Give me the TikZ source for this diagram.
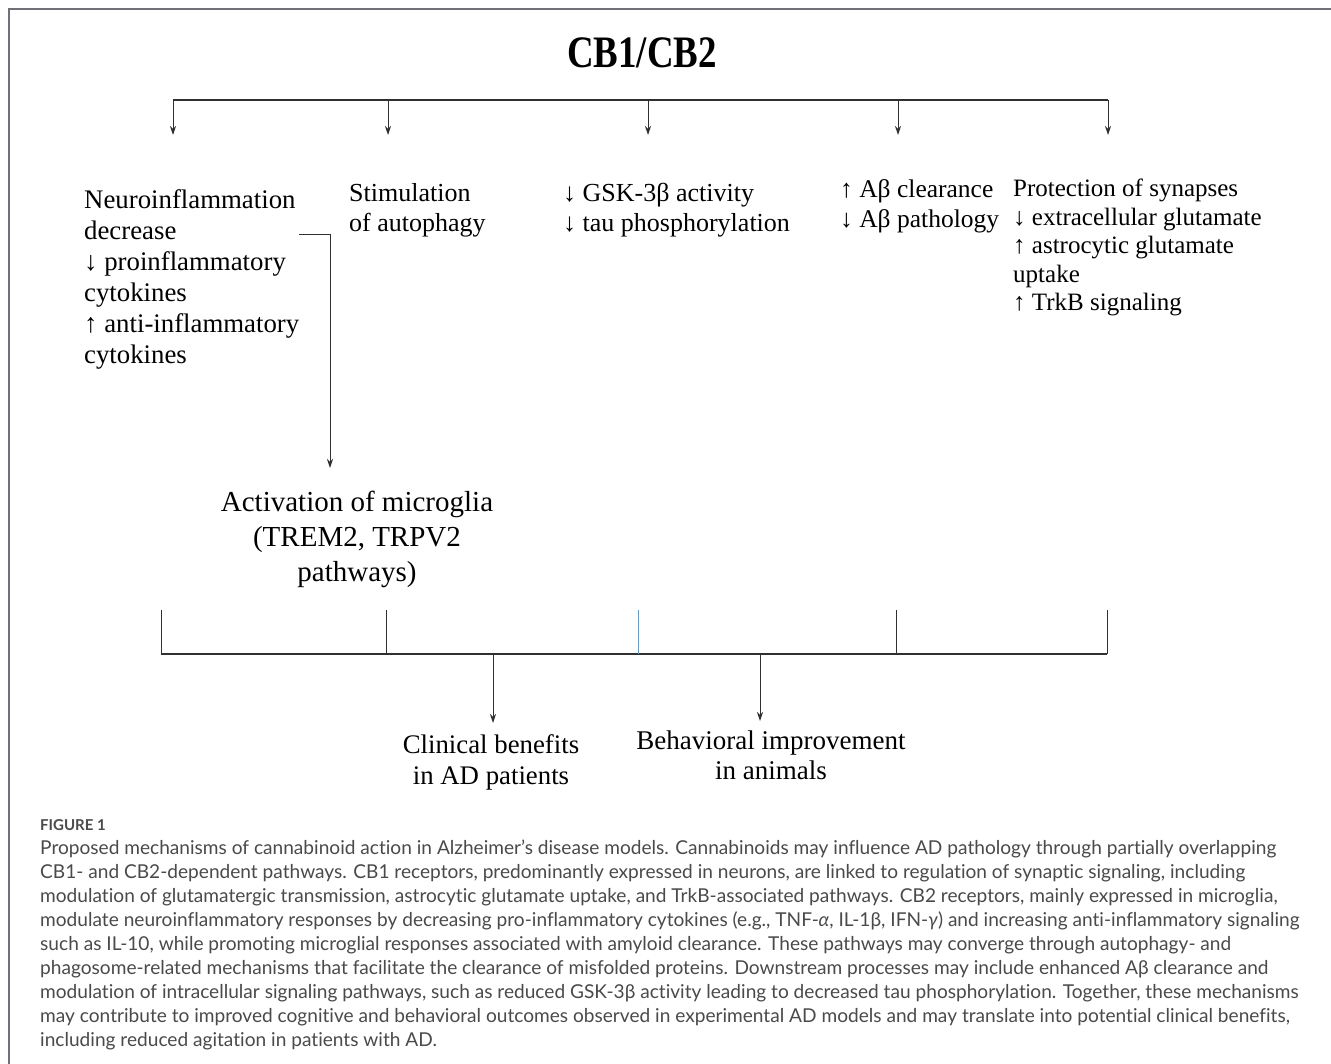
\documentclass[tikz,border=0pt]{standalone}
\usepackage{fontspec}
\setmainfont{Liberation Serif}
\newfontfamily\capfont[Ligatures=NoCommon]{Lato}
\usetikzlibrary{arrows.meta}
\definecolor{framegray}{HTML}{707078}
\definecolor{capgray}{HTML}{4A4A4A}
\definecolor{tickblue}{HTML}{6A9AC0}
\definecolor{linegray}{HTML}{303030}
\tikzset{
  txt/.style={inner sep=0pt, align=left, anchor=base west, text=black},
  ctxt/.style={inner sep=0pt, align=center, anchor=base, text=black},
  arr/.style={draw=linegray, line width=1pt, -{Stealth[length=9pt,width=6pt]}},
  bar/.style={draw=linegray, line width=1.8pt},
  tick/.style={draw=linegray, line width=1pt},
  capline/.style={inner sep=0pt, anchor=base west, text=capgray, font=\capfont\fontsize{19.1}{24}\selectfont},
}
\begin{document}
\begin{tikzpicture}[x=1pt,y=-1pt]
\useasboundingbox (0,0) rectangle (1331,1064);
\fill[white] (0,0) rectangle (1331,1064);
% frame
\draw[framegray, line width=2pt] (9,1064) -- (9,9.5) -- (1331,9.5);

% title
\node[inner sep=0pt, anchor=base, font=\fontsize{45}{45}\selectfont\bfseries] (cb) at (642,68) {\scalebox{0.82}[1]{CB1/CB2}};

% top distribution bar
\coordinate (tl) at (173,100);
\coordinate (tr) at (1108,100);
\draw[bar] (tl) -- (tr);
\foreach \i/\x in {1/173,2/388,3/648,4/898,5/1108}{
  \coordinate (s\i) at (\x,100);
  \coordinate (e\i) at (\x,135);
  \draw[arr] (s\i) -- (e\i);
}

% first-level boxes (anchor = baseline of the last line)
\node[txt, font=\fontsize{26.8}{31}\selectfont] (neuro) at (84,364)
  {Neuroinflammation\\decrease\\↓ proinflammatory\\cytokines\\↑ anti-inflammatory\\cytokines};
\node[txt, font=\fontsize{26}{30}\selectfont] (auto) at (349,232)
  {Stimulation\\of autophagy};
\node[txt, font=\fontsize{26}{30}\selectfont] (gsk) at (563,232)
  {↓ GSK-3β activity\\↓ tau phosphorylation};
\node[txt, font=\fontsize{25.5}{30}\selectfont] (abeta) at (840,228)
  {↑ Aβ clearance\\↓ Aβ pathology};
\node[txt, font=\fontsize{25}{28.5}\selectfont] (syn) at (1013,311)
  {Protection of synapses\\↓ extracellular glutamate\\↑ astrocytic glutamate\\uptake\\↑ TrkB signaling};

% connector to microglia
\coordinate (nc) at (299,235);
\coordinate (mt) at (330,468);
\draw[arr] (nc) -| (mt);

\node[ctxt, font=\fontsize{29}{35}\selectfont] (micro) at (357,581)
  {Activation of microglia\\(TREM2, TRPV2\\pathways)};

% bottom collecting bar
\coordinate (bl) at (161,654);
\coordinate (br) at (1107,654);
\draw[bar] (bl) -- (br);
\foreach \i/\x in {1/161,2/386,4/896,5/1107}{
  \coordinate (u\i) at (\x,610);
  \coordinate (d\i) at (\x,654);
  \draw[tick] (d\i) -- (u\i);
}
\coordinate (u3) at (638.5,610);
\coordinate (d3) at (638.5,654);
\draw[tickblue, line width=1.8pt] (d3) -- (u3);

\coordinate (o1) at (493,654);
\coordinate (f1) at (493,723);
\coordinate (o2) at (760,654);
\coordinate (f2) at (760,721);
\draw[arr] (o1) -- (f1);
\draw[arr] (o2) -- (f2);

\node[ctxt, font=\fontsize{26.8}{31}\selectfont] (clin) at (491,784)
  {Clinical benefits\\in AD patients};
\node[ctxt, font=\fontsize{27}{30}\selectfont] (behav) at (771,779)
  {Behavioral improvement\\in animals};

% caption
\node[inner sep=0pt, anchor=base west, text=capgray, font=\capfont\bfseries\fontsize{15}{18}\selectfont] (fig) at (40,830) {FIGURE 1};
\node[capline] (c1) at (40,854) {Proposed mechanisms of cannabinoid action in Alzheimer’s disease models. Cannabinoids may influence AD pathology through partially overlapping};
\node[capline] (c2) at (40,878) {CB1- and CB2-dependent pathways. CB1 receptors, predominantly expressed in neurons, are linked to regulation of synaptic signaling, including};
\node[capline] (c3) at (40,902) {modulation of glutamatergic transmission, astrocytic glutamate uptake, and TrkB-associated pathways. CB2 receptors, mainly expressed in microglia,};
\node[capline] (c4) at (40,926) {modulate neuroinflammatory responses by decreasing pro-inflammatory cytokines (e.g., TNF-\textit{α}, IL-1β, IFN-\textit{γ}) and increasing anti-inflammatory signaling};
\node[capline] (c5) at (40,950) {such as IL-10, while promoting microglial responses associated with amyloid clearance. These pathways may converge through autophagy- and};
\node[capline] (c6) at (40,974) {phagosome-related mechanisms that facilitate the clearance of misfolded proteins. Downstream processes may include enhanced Aβ clearance and};
\node[capline] (c7) at (40,998) {modulation of intracellular signaling pathways, such as reduced GSK-3β activity leading to decreased tau phosphorylation. Together, these mechanisms};
\node[capline] (c8) at (40,1022) {may contribute to improved cognitive and behavioral outcomes observed in experimental AD models and may translate into potential clinical benefits,};
\node[capline] (c9) at (40,1046) {including reduced agitation in patients with AD.};
\end{tikzpicture}
\end{document}
